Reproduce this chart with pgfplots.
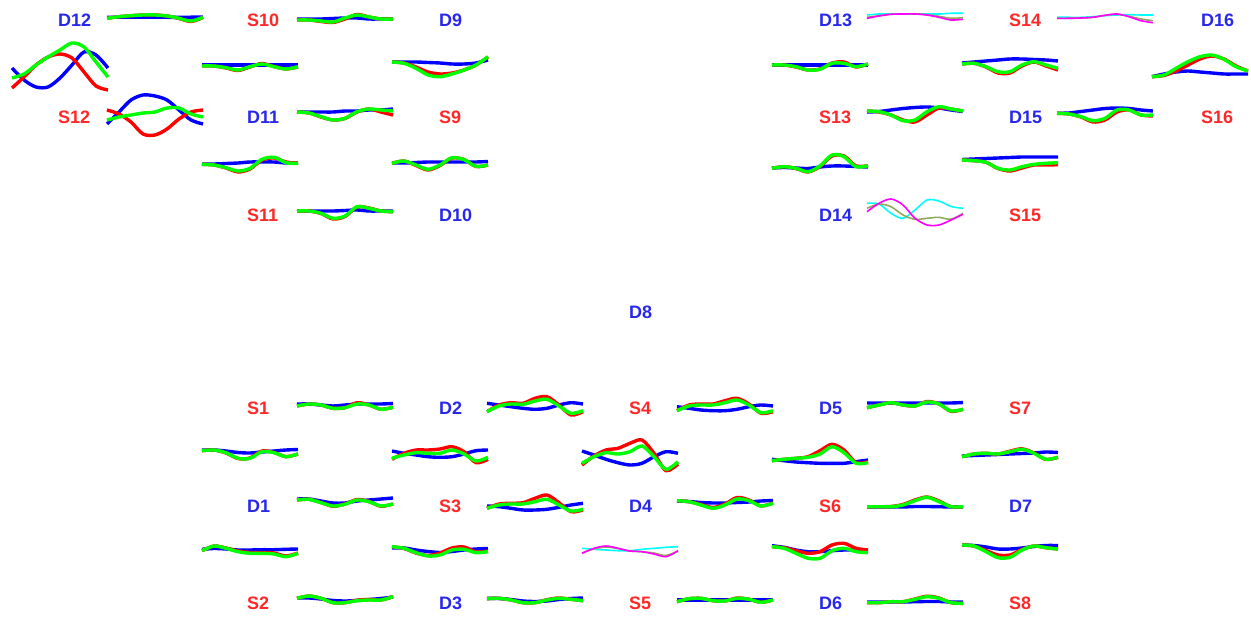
\documentclass[border=0pt]{standalone}
\usepackage{pgfplots}
\pgfplotsset{compat=1.18}
\usepackage{fontspec}
\setmainfont{Liberation Sans}
\definecolor{lr}{RGB}{255,40,40}
\definecolor{lb}{RGB}{40,40,235}
\definecolor{cr}{RGB}{255,0,0}
\definecolor{cg}{RGB}{0,255,0}
\definecolor{cb}{RGB}{0,0,255}
\definecolor{cc}{RGB}{0,255,255}
\definecolor{cm}{RGB}{255,0,255}
\definecolor{co}{RGB}{145,170,90}
\pgfplotsset{
  rd/.style={draw=cr,line width=3.4pt,smooth},
  gr/.style={draw=cg,line width=3.4pt,smooth},
  bl/.style={draw=cb,line width=3.4pt,smooth},
  cy/.style={draw=cc,line width=1.6pt,smooth},
  mg/.style={draw=cm,line width=1.6pt,smooth},
  ol/.style={draw=co,line width=1.6pt,smooth},
}
\tikzset{lab/.style={anchor=west,inner sep=0pt,font=\fontsize{18}{18}\selectfont\bfseries}}
\newcommand\C[4]{\addplot[#3] table[row sep=\\,x expr={12+95*#1+12*\coordindex},y expr={#2+\thisrowno{0}}]{#4\\};}
% k, row, red, green, blue
\newcommand\W[5]{\C{#1}{#2}{bl}{#5}\C{#1}{#2}{rd}{#3}\C{#1}{#2}{gr}{#4}}
% k, row, cyan, magenta, olive
\newcommand\Wt[5]{\C{#1}{#2}{cy}{#3}\C{#1}{#2}{ol}{#5}\C{#1}{#2}{mg}{#4}}
\begin{document}
\begin{tikzpicture}
\begin{axis}[at={(0,0)},anchor=south west,scale only axis,width=1251pt,height=623pt,
  xmin=0,xmax=1251,ymin=0,ymax=623,y dir=reverse,hide axis,clip=false]
% ---- top-left group
\W{1}{19}{-0.7\\-2.3\\-3.3\\-4\\-4\\-3\\-0.5\\2.5\\-1.5}{-0.7\\-2.3\\-3.3\\-4\\-4\\-3\\-0.7\\2\\-1.7}{-1.7\\-1.7\\-1.7\\-1.7\\-1.7\\-1.7\\-1.7\\-1.8\\-2}
\W{3}{19}{1\\1\\2.5\\3.5\\0\\-4.5\\-2\\0\\0}{1\\1\\2\\3\\-1\\-4\\-2\\0\\0}{0\\0\\0\\-0.5\\-1\\-1\\0\\0\\0}
\W{0}{68}{20\\9\\-3\\-11\\-14\\-10\\4\\18\\22}{10\\6\\-3\\-11\\-18\\-25\\-21\\-6\\9}{0\\12\\19\\19\\10\\-3\\-16\\-13\\0}
\W{2}{68}{-2\\-2\\0\\2.5\\-1\\-4.5\\-1.5\\1\\-1}{-2\\-2\\-0.3\\2\\-1.3\\-4\\-1.3\\1\\-1.3}{-3\\-3\\-3\\-3\\-3\\-3\\-3\\-3\\-3}
\W{4}{68}{-6\\-5\\-1\\4\\6\\5\\2\\-3\\-11}{-6\\-4.7\\0.3\\7\\8.7\\6\\2\\-3\\-11.3}{-6\\-6\\-6\\-5.5\\-5\\-4\\-4\\-5\\-8}
\W{1}{117}{-7\\-3\\5\\17\\18\\12\\2\\-5\\-7}{3\\0\\-2\\-4\\-5\\-9\\-9\\-3\\0}{7\\-5\\-17\\-22\\-21\\-17\\-7\\3\\7}
\W{3}{117}{-5\\-4\\0\\3\\1.5\\-5\\-8\\-5\\-2}{-5\\-4\\-0.3\\3\\1.3\\-5.3\\-8\\-7\\-6}{-5\\-5\\-5\\-5\\-6\\-6\\-7\\-7\\-8}
\W{2}{165}{-0.7\\0\\3\\7\\4\\-5\\-7\\-3\\-1.7}{-0.7\\0\\2.7\\6\\3.3\\-5.7\\-7.7\\-2.3\\-1.7}{-1\\-1\\-1.5\\-2\\-3\\-3\\-3\\-2\\-2}
\W{4}{165}{-1.7\\-4\\0.5\\5\\0.5\\-7\\-5.5\\1.5\\0}{-1.7\\-4\\0\\4.3\\0\\-7.3\\-5.3\\1.3\\0}{-2\\-2\\-2.5\\-3\\-3\\-3\\-3\\-3\\-3.5}
\W{3}{215}{-4\\-4\\-1.5\\4\\1.5\\-8\\-7\\-4\\-3.3}{-4\\-4\\-1.7\\3.3\\1\\-8.3\\-6.7\\-4\\-3.3}{-4\\-4\\-4\\-4\\-4.5\\-5\\-4\\-4\\-4}
% ---- top-right group
\Wt{9}{19}{-4\\-5\\-5\\-5\\-5\\-5\\-5\\-5.7\\-5.7}{-0.7\\-3\\-4.7\\-5\\-5\\-4\\-1.7\\1\\0.3}{-1.7\\-3.3\\-4.7\\-5\\-5\\-4.3\\-2.7\\-0.7\\-1.3}
\Wt{11}{19}{-1.7\\-1.7\\-1.7\\-2.3\\-3.3\\-4\\-4.3\\-4\\-4}{-0.7\\-0.7\\-1\\-1.7\\-3.7\\-5\\-2.3\\1.7\\3.7}{-0.7\\-0.7\\-1\\-1.7\\-3.7\\-4.7\\-2.7\\0\\1.7}
\W{8}{68}{-3\\-3\\-1\\2\\1\\-5\\-6\\-1\\-4}{-3\\-3\\-1.3\\2\\1.3\\-4.7\\-4.7\\-1.3\\-4}{-3\\-3\\-3\\-3\\-3\\-3\\-3\\-3\\-3}
\W{10}{68}{-4\\-4.7\\-1\\5\\5\\-2\\-6\\-2\\2}{-4\\-4.7\\-1.3\\3.7\\3.7\\-3\\-6.3\\-3\\0.3}{-5\\-6\\-7\\-8\\-9\\-9\\-8.5\\-8\\-7}
\W{12}{68}{8.7\\7.5\\3\\-3\\-9\\-12\\-9\\-2\\3}{8.7\\7\\0.3\\-6.3\\-11.3\\-13\\-8.7\\-1.3\\3}{8.7\\6\\4\\3\\4\\5\\6\\6\\6}
\W{9}{117}{-6\\-5\\-2\\3\\5\\-2\\-9\\-8\\-6}{-6\\-5.3\\-2\\3.7\\3\\-5.3\\-10.3\\-8\\-6}{-5\\-5.5\\-7\\-8.5\\-9.5\\-10\\-9\\-7\\-5.5}
\W{11}{117}{-3.7\\-3\\0\\5\\3\\-5\\-7\\-2\\-1}{-3.7\\-3\\-0.3\\3.7\\1.3\\-7\\-7\\-2\\-2}{-3.7\\-4\\-5.5\\-7\\-8.5\\-9\\-8.5\\-7\\-6}
\W{8}{165}{3.3\\1.7\\3.5\\7\\1.5\\-9\\-9\\1\\0.7}{3.3\\1.7\\3.3\\6.7\\1\\-10\\-8.3\\1.7\\0.7}{3\\2.5\\3\\3.5\\2\\1\\1\\1.5\\2}
\W{10}{165}{-5\\-4.3\\-2.7\\3.5\\6\\3\\0\\0\\-0.3}{-5\\-4.3\\-2.7\\3.3\\5\\1.7\\-0.7\\-1.7\\-2.3}{-5.5\\-6\\-6.5\\-7\\-7.5\\-8\\-8\\-8\\-8}
\Wt{9}{215}{-11.7\\-11\\-1.7\\3.3\\-5\\-15\\-14\\-8.5\\-6.7}{-3.3\\-11.7\\-16\\-10\\3.3\\10\\10\\5\\-0.7}{-6.7\\-11\\-8.3\\0\\4.3\\3.3\\2.3\\4.3\\-1.7}
% ---- bottom group
\W{3}{407}{-1\\-3\\-2\\1.3\\0.7\\-4.3\\-2\\2.3\\0.3}{-1\\-3\\-2\\1.3\\0.7\\-3\\-2\\2.3\\0.3}{-3\\-3\\-2\\-1\\-2\\-3\\-3\\-3\\-3.5}
\W{5}{407}{4.7\\-2\\-4.3\\-3.7\\-8.7\\-10.3\\-2\\8\\4.7}{4.7\\-1\\-3\\-2.7\\-6\\-7.7\\-1\\6.3\\3.7}{-3.7\\-2\\-0.3\\1.3\\2.3\\1.3\\-2\\-4.3\\-3}
\W{7}{407}{3.7\\-2\\-3\\-3\\-6.3\\-8.7\\-3\\6.3\\4.7}{3.7\\-1\\-2\\-2\\-4.3\\-7\\-2\\5.7\\3.7}{-0.3\\1.3\\3\\3.7\\3.7\\2.3\\-0.3\\-2\\-1}
\W{9}{407}{0.7\\-2\\-4.3\\-2\\-1\\-5.5\\-3\\4.3\\2.3}{0.7\\-2\\-4.3\\-2\\-1\\-5\\-3\\4\\2.3}{-4\\-4\\-4\\-4\\-4\\-4\\-4\\-4\\-4.5}
\W{2}{456}{-5.3\\-6\\-3\\2.5\\2\\-5\\-3.5\\0.7\\-2}{-5.3\\-6\\-3.3\\2.3\\2.3\\-4.3\\-3.3\\0.7\\-2}{-6\\-6\\-5\\-3.5\\-3\\-4\\-5\\-6\\-6.5}
\W{4}{456}{3.3\\-2.7\\-6\\-6\\-7\\-9.3\\-4.3\\6.7\\3.3}{2.3\\-1\\-3.3\\-2.7\\-2.7\\-6\\-2\\5\\1.3}{-5\\-2.7\\-1\\0.7\\1.3\\0.7\\-2\\-5.3\\-6}
\W{6}{456}{9\\0\\-6\\-7.7\\-12.7\\-16\\-2.7\\14.7\\8}{7.3\\0.7\\-3.3\\-2\\-4.3\\-10\\0.7\\13.3\\5.7}{-5\\-1\\3.3\\6.7\\9\\7.3\\0.7\\-4.3\\-2.7}
\W{8}{456}{4.7\\3.3\\2.3\\0.7\\-5.3\\-11.7\\-6\\6.7\\5.7}{4.7\\3.3\\2.3\\1.3\\-2\\-9.3\\-3.3\\7.3\\6.7}{3.3\\4.7\\6\\6.7\\7.3\\7.3\\7.3\\5.7\\4}
\W{10}{456}{0.7\\-2\\-2.7\\-2\\-4.8\\-7.2\\-3\\3.5\\1.3}{0.7\\-2\\-2.7\\-2\\-4.3\\-6.7\\-2.7\\3.3\\1.3}{0\\-0.5\\-1\\-1.5\\-2\\-2.5\\-3\\-4\\-3.5}
\W{3}{506}{-6\\-6.7\\-3.5\\0.3\\-2\\-6.5\\-4.5\\0.3\\-2}{-6\\-6.7\\-3.3\\0\\-1.7\\-6\\-4.3\\0\\-2}{-7\\-7\\-5\\-3\\-3\\-5\\-6\\-7\\-8}
\W{5}{506}{2.3\\-2\\-2.7\\-3.3\\-7.7\\-11\\-3.3\\5.7\\4}{2.3\\-1\\-2\\-2\\-4.3\\-6.7\\-1\\5\\3.3}{0\\0.7\\2.3\\4\\4\\3.3\\1.3\\-1\\-2.7}
\W{7}{506}{-5.3\\-4.3\\-1.5\\1.5\\-2\\-8.5\\-6\\0\\-3}{-5.3\\-4.3\\-1\\2.3\\-1\\-7\\-5.3\\0\\-2.7}{-5\\-4.5\\-3.5\\-3\\-3\\-3.5\\-4\\-5\\-5.5}
\W{9}{506}{0.7\\0.7\\0.5\\-1.5\\-6\\-9\\-5\\0.7\\0.7}{0.7\\0.7\\0.7\\-1\\-5.3\\-8.7\\-4.3\\0.7\\0.7}{1\\1\\1\\1\\0.5\\0.5\\0.7\\1\\1}
\W{2}{553}{-2.3\\-7\\-5\\-2\\-0.5\\-0.5\\0\\3\\0}{-2.3\\-7\\-4.7\\-1.3\\0.3\\0.3\\1\\3.7\\0.3}{-3.7\\-4.5\\-4\\-3\\-3\\-3.3\\-3.3\\-3.7\\-4}
\W{4}{553}{-6.3\\-4.5\\0\\2.5\\0\\-5\\-6\\-1\\-2}{-6.3\\-4.7\\-0.3\\3\\2\\-3\\-3.7\\-0.3\\-1.3}{-5\\-5\\-3\\-1.5\\-0.5\\-1.5\\-3\\-4\\-4.5}
\Wt{6}{553}{-4.7\\-3.7\\-3\\-2.3\\-2.3\\-3.7\\-4.7\\-5.7\\-6.3}{0.3\\-4.7\\-7\\-4.7\\-2\\-1.3\\1\\3.7\\-2.3}{0\\-4\\-6\\-4.5\\-2\\-1.3\\0\\2.5\\-2}
\W{8}{553}{-6.3\\-5.3\\-2.3\\0.3\\-1.3\\-8\\-9.7\\-4.7\\-3}{-6.3\\-4.7\\0.3\\5.3\\5.3\\-2.3\\-4.7\\-1.3\\-0.3}{-7.3\\-5.7\\-3\\-1.3\\-1.3\\-2.3\\-3\\-3\\-3}
\W{10}{553}{-8\\-7\\-2.5\\2\\2\\-3.5\\-7\\-5.3\\-4}{-8\\-7\\-1.3\\4.7\\4.3\\-3\\-7\\-5.3\\-4}{-8\\-7.5\\-6\\-4\\-4\\-5\\-6.5\\-7.5\\-7.5}
\W{3}{603}{-4.7\\-7\\-4.7\\-0.3\\-0.3\\-2.8\\-3.5\\-3\\-6.3}{-4.7\\-7\\-4.7\\-0.3\\-0.3\\-2.3\\-3\\-3\\-6.3}{-5\\-5\\-4\\-2.5\\-2\\-2.5\\-3.5\\-4.5\\-6}
\W{5}{603}{-4.3\\-4.7\\-3\\-0.3\\-0.3\\-3.3\\-5\\-3.7\\-2.3}{-4.3\\-4.7\\-3\\-0.3\\-0.3\\-3\\-4.7\\-3.7\\-2.3}{-4.7\\-4.5\\-3.5\\-2\\-1.5\\-2\\-3.5\\-4.5\\-5}
\W{7}{603}{-1.3\\-4.3\\-4.7\\-2.3\\-2\\-5\\-3.7\\-0.7\\-3}{-1.3\\-4.3\\-4.7\\-2.3\\-2\\-4.7\\-3.7\\-0.7\\-3}{-3\\-3\\-3\\-3\\-3\\-3\\-3\\-3\\-3}
\W{9}{603}{-0.3\\-0.3\\-1.3\\-1.3\\-4\\-6.8\\-5\\-0.3\\0.3}{-0.3\\-0.3\\-1.3\\-1.3\\-3.7\\-6.3\\-4.7\\-0.3\\0.3}{-1\\-1\\-1\\-1\\-1.3\\-1.5\\-1.5\\-1\\-1}
% ---- labels
\node[lab,lb] at (axis cs:58,20) {D12};
\node[lab,lr] at (axis cs:247,20) {S10};
\node[lab,lb] at (axis cs:439,20) {D9};
\node[lab,lr] at (axis cs:58,117) {S12};
\node[lab,lb] at (axis cs:247,117) {D11};
\node[lab,lr] at (axis cs:439,117) {S9};
\node[lab,lr] at (axis cs:247,215) {S11};
\node[lab,lb] at (axis cs:439,215) {D10};
\node[lab,lb] at (axis cs:819,20) {D13};
\node[lab,lr] at (axis cs:1009,20) {S14};
\node[lab,lb] at (axis cs:1201,20) {D16};
\node[lab,lr] at (axis cs:819,117) {S13};
\node[lab,lb] at (axis cs:1009,117) {D15};
\node[lab,lr] at (axis cs:1201,117) {S16};
\node[lab,lb] at (axis cs:819,215) {D14};
\node[lab,lr] at (axis cs:1009,215) {S15};
\node[lab,lb] at (axis cs:629,312) {D8};
\node[lab,lr] at (axis cs:247,408) {S1};
\node[lab,lb] at (axis cs:439,408) {D2};
\node[lab,lr] at (axis cs:629,408) {S4};
\node[lab,lb] at (axis cs:819,408) {D5};
\node[lab,lr] at (axis cs:1009,408) {S7};
\node[lab,lb] at (axis cs:247,506) {D1};
\node[lab,lr] at (axis cs:439,506) {S3};
\node[lab,lb] at (axis cs:629,506) {D4};
\node[lab,lr] at (axis cs:819,506) {S6};
\node[lab,lb] at (axis cs:1009,506) {D7};
\node[lab,lr] at (axis cs:247,603) {S2};
\node[lab,lb] at (axis cs:439,603) {D3};
\node[lab,lr] at (axis cs:629,603) {S5};
\node[lab,lb] at (axis cs:819,603) {D6};
\node[lab,lr] at (axis cs:1009,603) {S8};
\end{axis}
\pgfresetboundingbox
\path (0,0) rectangle (1251pt,623pt);
\end{tikzpicture}
\end{document}
